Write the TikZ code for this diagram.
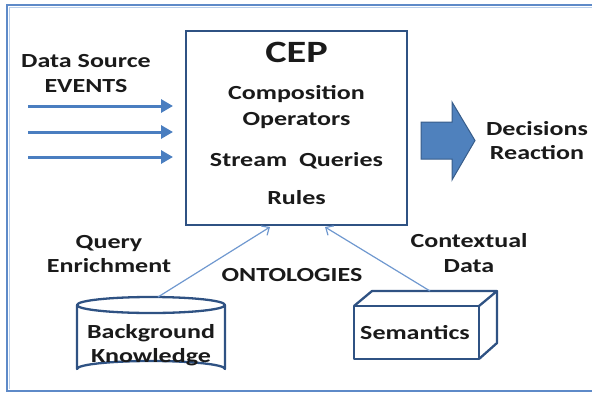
\documentclass[tikz,border=0pt]{standalone}
\usepackage{fontspec}
\setmainfont[FakeStretch=1.3]{Carlito}
\usetikzlibrary{arrows.meta}
\definecolor{framecol}{HTML}{5E8AC8}
\definecolor{framein}{HTML}{B9CFEA}
\definecolor{boxcol}{HTML}{2F5283}
\definecolor{arrcol}{HTML}{4A7EC0}
\definecolor{thincol}{HTML}{6F98CF}
\definecolor{bigfill}{HTML}{4F81BD}
\definecolor{bigline}{HTML}{385D8A}
\definecolor{txt}{HTML}{1A1A1A}
\tikzset{
  lbl/.style={text=txt, font=\fontsize{20}{24}\selectfont\bfseries, align=center, inner sep=0pt},
  cepbox/.style={draw=boxcol, line width=2.5pt},
  evarrow/.style={draw=arrcol, line width=3pt, -{Triangle[length=12pt,width=13pt]}},
  thinarrow/.style={draw=thincol, line width=1.2pt, -{Straight Barb[length=6pt,width=11pt]}},
  solid3d/.style={draw=boxcol, line width=2.3pt, line join=round},
}
\begin{document}
\begin{tikzpicture}[x=1pt,y=-1pt]
\useasboundingbox (0,0) rectangle (592,394);
% outer frame
\draw[framein, line width=1.5pt] (592,7.5) -- (9.5,7.5) -- (9.5,389);
\draw[framecol, line width=2pt] (592,5) -- (7,5) -- (7,391) -- (592,391);
% CEP box
\node[cepbox, minimum width=221pt, minimum height=194pt, inner sep=0pt] (cep) at (296.5,128) {};
\node[lbl, font=\fontsize{31}{36}\selectfont\bfseries, anchor=base] (ceptitle) at (296.5,62) {CEP};
\node[lbl, anchor=base] (comp) at (296.5,99) {Composition};
\node[lbl, anchor=base] (oper) at (296.5,125) {Operators};
\node[lbl, anchor=base] (stream) at (296.5,166) {Stream~ Queries};
\node[lbl, anchor=base] (rules) at (296.5,204) {Rules};
% data source
\node[lbl, anchor=base] (ds) at (86,67) {Data Source};
\node[lbl, anchor=base] (ev) at (86,92) {EVENTS};
\coordinate (a1s) at (28,106); \coordinate (a1e) at (173,106);
\coordinate (a2s) at (28,132); \coordinate (a2e) at (173,132);
\coordinate (a3s) at (28,157); \coordinate (a3e) at (173,157);
\draw[evarrow] (a1s) -- (a1e);
\draw[evarrow] (a2s) -- (a2e);
\draw[evarrow] (a3s) -- (a3e);
% big arrow
\draw[fill=bigfill, draw=bigline, line width=1pt, line join=miter]
  (421,122) -- (452,122) -- (452,102) -- (475,140.5) -- (452,180) -- (452,159) -- (421,159) -- cycle;
\node[lbl, anchor=base] (dec) at (537,135) {Decisions};
\node[lbl, anchor=base] (rea) at (537,159) {Reaction};
% side labels
\node[lbl, anchor=base] (query) at (109,248) {Query};
\node[lbl, anchor=base] (enrich) at (109,272) {Enrichment};
\node[lbl, anchor=base] (onto) at (292,281) {ONTOLOGIES};
\node[lbl, anchor=base] (ctx) at (469,247) {Contextual};
\node[lbl, anchor=base] (cdata) at (469,272) {Data};
% cylinder
\draw[solid3d, fill=white] (77,305) -- (77,369) arc[start angle=180, end angle=360, x radius=74, y radius=8] -- (225,305);
\draw[solid3d] (151,305) ellipse[x radius=74, y radius=8];
\coordinate (cyltop) at (158,297);
\node[lbl, anchor=base] (bg) at (151,338) {Background};
\node[lbl, anchor=base] (kn) at (151,362) {Knowledge};
% 3D box
\draw[solid3d] (354,306) rectangle (479,359);
\draw[solid3d] (354,306) -- (372,291) -- (497,291) -- (479,306);
\draw[solid3d] (479,359) -- (497,343) -- (497,291);
\coordinate (semtop) at (430,291);
\node[lbl, anchor=base] (sem) at (415,339) {Semantics};
% connectors
\coordinate (cepin1) at (270,227);
\coordinate (cepin2) at (325,227);
\draw[thinarrow] (cyltop) -- (cepin1);
\draw[thinarrow] (semtop) -- (cepin2);
\end{tikzpicture}
\end{document}
